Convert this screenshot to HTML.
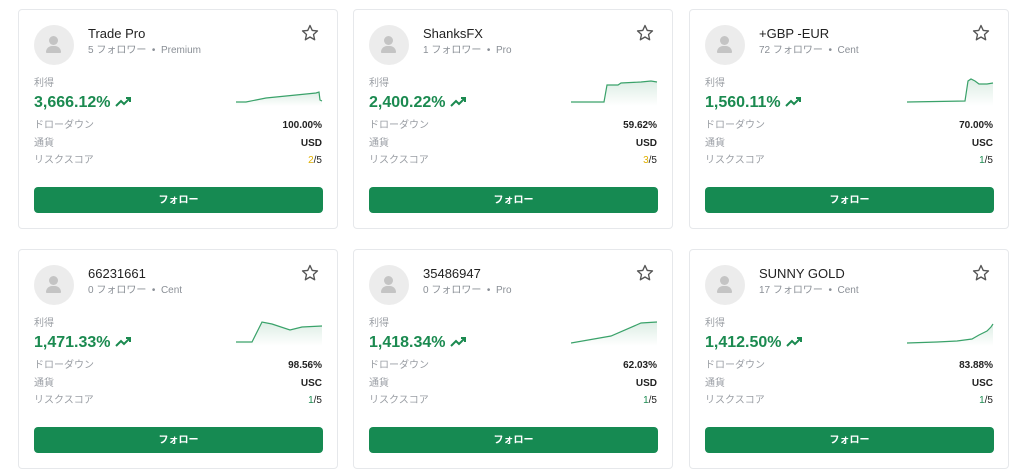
<!DOCTYPE html>
<html><head><meta charset="utf-8"><style>
body{margin:0;width:1024px;height:472px;background:#fff;position:relative;font-family:"Liberation Sans","Noto Sans CJK JP",sans-serif;overflow:hidden}
.c{position:absolute;width:320px;height:220px;border:1px solid #e6e8eb;border-radius:4px;box-sizing:border-box;background:#fff}
.av{position:absolute;left:15px;top:15px;width:40px;height:40px;border-radius:50%;background:#ececec}
.av:before{content:"";position:absolute;left:15px;top:11px;width:9px;height:9px;border-radius:50%;background:#c4c4c4}
.av:after{content:"";position:absolute;left:12px;top:21px;width:15px;height:7px;border-radius:7px 7px 1px 1px;background:#c4c4c4}
.nm{position:absolute;left:69px;top:16px;font-size:13px;color:#222}
.sb{position:absolute;left:69px;top:35px;font-size:10px;line-height:12px;color:#8a8f96}
.st{position:absolute;left:281px;top:13px}
.lb{position:absolute;left:15px;font-size:10px;line-height:12px;color:#9a9ea4}
.pv{position:absolute;left:15px;top:84px;font-size:16px;font-weight:bold;color:#1b8a50}
.rv{position:absolute;right:15px;font-size:10px;line-height:12px;font-weight:bold;color:#222}
.ch{position:absolute;left:217px;top:66px}
.bt{position:absolute;left:15px;top:177px;width:289px;height:26px;border-radius:4px;background:#168a52;color:#fff;font-size:10px;font-weight:bold;text-align:center;line-height:28px}
</style></head><body>
<script>
const d=[
[18,9,"Trade Pro","5 フォロワー","Premium","3,666.12%","100.00%","USD","2","M0,26 L10,26 L20,24 L30,22 L50,20 L80,17 L83,16 L84,24 L86,25"],
[353,9,"ShanksFX","1 フォロワー","Pro","2,400.22%","59.62%","USD","3","M0,26 L33,26 L36,9 L47,9 L50,7 L70,6 L80,5 L86,6"],
[689,9,"+GBP -EUR","72 フォロワー","Cent","1,560.11%","70.00%","USC","1","M0,26 L58,25 L61,5 L64,3 L68,5 L72,8 L80,8 L86,7"],
[18,249,"66231661","0 フォロワー","Cent","1,471.33%","98.56%","USC","1","M0,26 L16,26 L26,6 L36,8 L54,14 L66,11 L86,10"],
[353,249,"35486947","0 フォロワー","Pro","1,418.34%","62.03%","USD","1","M0,27 L40,20 L70,7 L86,6"],
[689,249,"SUNNY GOLD","17 フォロワー","Cent","1,412.50%","83.88%","USC","1","M0,27 L30,26 L50,25 L65,23 L72,19 L80,15 L84,11 L86,8"]];
let h="";
for(const c of d){
const rc=c[8]=="1"?"#1b8a50":"#e0b000";
h+=`<div class="c" style="left:${c[0]}px;top:${c[1]}px"><div class="av"></div>
<div class="nm">${c[2]}</div><div class="sb">${c[3]} &nbsp;•&nbsp; ${c[4]}</div>
<svg class="st" width="20" height="20" viewBox="0 0 24 24"><path d="M12 3l2.7 5.9 6.3.6-4.8 4.3 1.4 6.3L12 16.8 6.4 20.1l1.4-6.3L3 9.5l6.3-.6z" fill="none" stroke="#555" stroke-width="1.6" stroke-linejoin="round"/></svg>
<div class="lb" style="top:68px">利得</div>
<div class="pv">${c[5]} <svg width="18" height="12" viewBox="0 0 18 12" style="vertical-align:-1px"><path d="M1,10 L6,5 L9,8 L15,2 M11,2 L15,2 L15,6" fill="none" stroke="#1b8a50" stroke-width="2"/></svg></div>
<svg class="ch" width="88" height="30"><defs><linearGradient id="g${c[0]}${c[1]}" x1="0" y1="0" x2="0" y2="1"><stop offset="0" stop-color="#1b8a50" stop-opacity=".15"/><stop offset="1" stop-color="#1b8a50" stop-opacity="0"/></linearGradient></defs><path d="${c[9]} L86,30 L0,30Z" fill="url(#g${c[0]}${c[1]})"/><path d="${c[9]}" fill="none" stroke="#3aa26a" stroke-width="1.2"/></svg>
<div class="lb" style="top:110px">ドローダウン</div><div class="rv" style="top:110px">${c[6]}</div>
<div class="lb" style="top:128px">通貨</div><div class="rv" style="top:128px">${c[7]}</div>
<div class="lb" style="top:145px">リスクスコア</div><div class="rv" style="top:145px;font-weight:normal"><span style="color:${rc}">${c[8]}</span>/5</div>
<div class="bt">フォロー</div></div>`;}
document.write(h);
</script>
</body></html>
